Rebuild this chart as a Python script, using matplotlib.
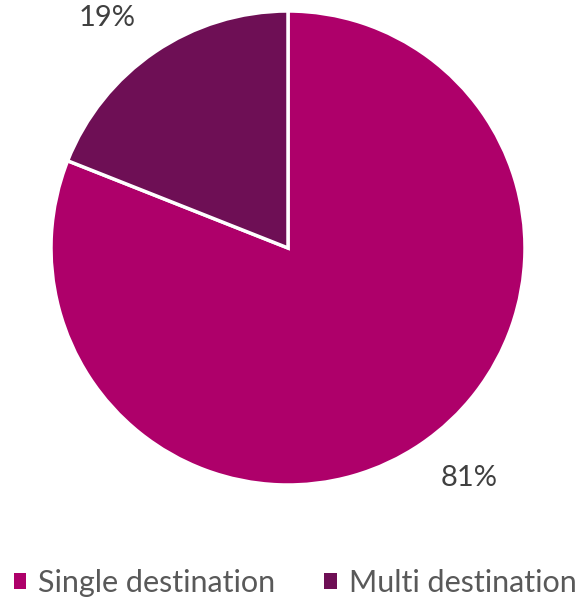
import numpy as np
import matplotlib.pyplot as plt
from matplotlib.patches import Patch

# trip type split
labels = ['Single destination', 'Multi destination']
shares = [81, 19]
colors = ['#AE006A', '#6E0F55']

plt.rcParams['font.family'] = ['Lato', 'DejaVu Sans']

fig = plt.figure(figsize=(5.79, 6.03), dpi=100)
ax = fig.add_axes([51/579, 118/603, 474/579, 474/603])

wedges, _ = ax.pie(
    shares, colors=colors, startangle=90, counterclock=False,
    wedgeprops=dict(edgecolor='white', linewidth=2.5),
)

# percentage labels just outside each wedge
for w, s in zip(wedges, shares):
    ang = np.deg2rad((w.theta1 + w.theta2) / 2 + 4)
    ax.text(1.235 * np.cos(ang), 1.235 * np.sin(ang), f'{s}%',
            ha='center', va='center', fontsize=21, color='#404040')

ax.set_xlim(-1, 1)
ax.set_ylim(-1, 1)
ax.set_aspect('equal')

handles = [Patch(facecolor=c, edgecolor='none') for c in colors]
fig.legend(handles, labels, loc='center', bbox_to_anchor=(0.51, 0.033), ncol=2,
           frameon=False, fontsize=22, handlelength=0.4, handleheight=0.4,
           handletextpad=0.4, columnspacing=1.6, labelcolor='#595959',
           borderpad=0, borderaxespad=0)

fig.savefig('out.png', dpi=100)
